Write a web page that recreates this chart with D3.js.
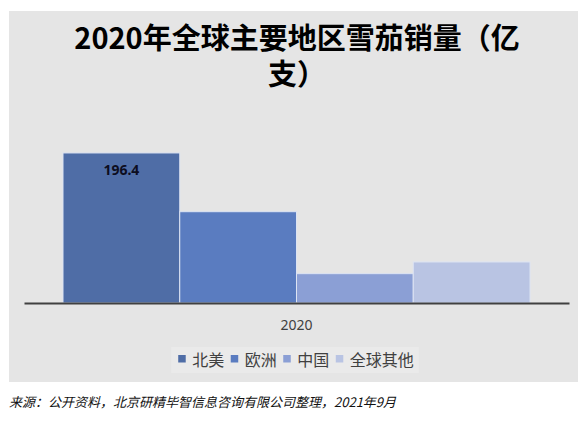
<!DOCTYPE html>
<html>
    <head>
        <meta charset="utf-8">
        <title>2020年全球主要地区雪茄销量</title>
        <style>
body {
    margin: 0;
    background-color: white;
    font-family: 'Noto Sans CJK SC', 'Noto Sans', sans-serif;
}

svg {
    display: block;
}

.title {
    font-size: 29px;
    font-weight: bold;
    fill: #000;
    text-anchor: middle;
}

.value-label {
    font-family: 'Noto Sans', sans-serif;
    font-size: 14px;
    font-weight: bold;
    fill: #0d0d1f;
    text-anchor: middle;
}

.legend-text {
    font-size: 16px;
    fill: #404040;
}

.source {
    font-size: 13px;
    font-style: italic;
    fill: #111;
}
        </style>
        <script src="https://cdn.jsdelivr.net/npm/d3@7"></script>
    </head>
    <body>
        <script>
var width = 586,
    height = 424;

// data (亿支)
var categories = ["2020"];
var regions = ["北美", "欧洲", "中国", "全球其他"];
var sales = [196.4, 119.5, 38.4, 53.7];
var labelled = ["北美"];
var colors = ["#4f6da6", "#5a7cc0", "#8b9fd5", "#b9c4e3"];

var titleLines = ["2020年全球主要地区雪茄销量（亿", "支）"];
var sourceText = "来源：公开资料，北京研精毕智信息咨询有限公司整理，2021年9月";

var svg = d3.select("body")
    .append("svg")
    .attr("width", width)
    .attr("height", height);

// grey panel behind the chart
svg.append("rect")
    .attr("x", 9)
    .attr("y", 11)
    .attr("width", 569)
    .attr("height", 371)
    .attr("fill", "#e5e5e5");

// title, wrapped on two lines like the original
var title = svg.append("text")
    .attr("class", "title")
    .attr("x", 297)
    .attr("y", 49);

title.selectAll("tspan")
    .data(titleLines)
    .enter()
    .append("tspan")
    .attr("x", 297)
    .attr("dy", function (d, i) { return i == 0 ? 0 : 36; })
    .text(function (d) { return d; });

// scales
var x0 = d3.scaleBand()
    .domain(categories)
    .range([24, 569])
    .paddingInner(0)
    .paddingOuter(0.0835);

var x1 = d3.scaleBand()
    .domain(regions)
    .range([0, x0.bandwidth()])
    .padding(0);

var y = d3.scaleLinear()
    .domain([0, 250])
    .range([303, 112]);

var color = d3.scaleOrdinal()
    .domain(regions)
    .range(colors);

var rows = regions.map(function (r, i) {
    return { region: r, value: sales[i], category: categories[0] };
});

var bars = svg.append("g");

bars.selectAll("rect")
    .data(rows)
    .enter()
    .append("rect")
    .attr("x", function (d) { return x0(d.category) + x1(d.region); })
    .attr("y", function (d) { return y(d.value); })
    .attr("width", x1.bandwidth())
    .attr("height", function (d) { return y(0) - y(d.value); })
    .attr("fill", function (d) { return color(d.region); })
    .attr("stroke", "#dde4f3")
    .attr("stroke-width", 1);

bars.selectAll("text")
    .data(rows.filter(function (d) { return labelled.indexOf(d.region) >= 0; }))
    .enter()
    .append("text")
    .attr("class", "value-label")
    .attr("x", function (d) { return x0(d.category) + x1(d.region) + x1.bandwidth() / 2; })
    .attr("y", function (d) { return y(d.value) + 22; })
    .text(function (d) { return d.value.toFixed(1); });

// category axis
var axis = svg.append("g")
    .attr("transform", "translate(0," + y(0) + ")")
    .call(d3.axisBottom(x0).tickSize(0).tickPadding(17));

axis.select(".domain")
    .attr("stroke", "#404040")
    .attr("stroke-width", 2);

axis.selectAll("text")
    .attr("font-family", "'Noto Sans', sans-serif")
    .attr("font-size", 14)
    .attr("fill", "#404040");

// legend
var legendBox = svg.append("rect")
    .attr("fill", "#eaeaea");

var legend = svg.append("g");

var items = legend.selectAll("g")
    .data(regions)
    .enter()
    .append("g");

items.append("rect")
    .attr("y", 355)
    .attr("width", 7.5)
    .attr("height", 7.5)
    .attr("fill", function (d) { return color(d); });

items.append("text")
    .attr("class", "legend-text")
    .attr("x", 14)
    .attr("y", 366)
    .text(function (d) { return d; });

// lay the legend items out one after the other, then centre them
var offset = 0;
items.each(function () {
    var g = d3.select(this);
    var w = g.select("text").node().getComputedTextLength();
    g.attr("transform", "translate(" + offset + ",0)");
    offset += 14 + w + 6.5;
});
var legendWidth = offset - 6.5;
var legendX = 296 - legendWidth / 2;
legend.attr("transform", "translate(" + legendX + ",0)");

legendBox
    .attr("x", legendX - 7)
    .attr("y", 347)
    .attr("width", legendWidth + 12)
    .attr("height", 26);

// source line under the panel
svg.append("text")
    .attr("class", "source")
    .attr("x", 9)
    .attr("y", 407)
    .text(sourceText);

        </script>
    </body>
</html>
